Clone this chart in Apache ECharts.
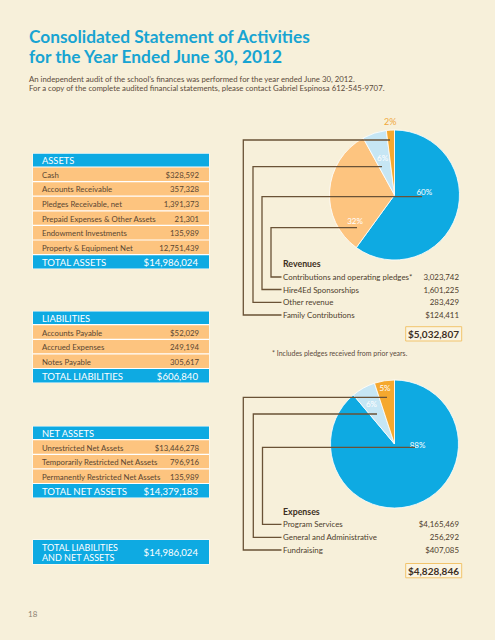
<!DOCTYPE html>
<html><head><meta charset="utf-8">
<script src="https://cdn.jsdelivr.net/npm/echarts@6/dist/echarts.min.js"></script>
<style>html,body{margin:0;padding:0;background:#f7f0da;}#c{width:495px;height:640px;}</style>
</head><body><div id="c"></div>
<script>
// ---- data ----
const titleLines = ['Consolidated Statement of Activities', 'for the Year Ended June 30, 2012'];
const introLines = ['An independent audit of the school\u2019s finances was performed for the year ended June 30, 2012.',
  'For a copy of the complete audited financial statements, please contact Gabriel Espinosa 612-545-9707.'];
const assetItems = ['Cash', 'Accounts Receivable', 'Pledges Receivable, net', 'Prepaid Expenses & Other Assets', 'Endowment Investments', 'Property & Equipment Net'];
const assetValues = ['$328,592', '357,328', '1,391,373', '21,301', '135,989', '12,751,439'];
const assetTotal = '$14,986,024';
const liabilityItems = ['Accounts Payable', 'Accrued Expenses', 'Notes Payable'];
const liabilityValues = ['$52,029', '249,194', '305,617'];
const liabilityTotal = '$606,840';
const netAssetItems = ['Unrestricted Net Assets', 'Temporarily Restricted Net Assets', 'Permanently Restricted Net Assets'];
const netAssetValues = ['$13,446,278', '796,916', '135,989'];
const netAssetTotal = '$14,379,183';
const grandTotalLabel = ['TOTAL LIABILITIES', 'AND NET ASSETS'];
const grandTotal = '$14,986,024';
const revenueCategories = ['Contributions and operating pledges*', 'Hire4Ed Sponsorships', 'Other revenue', 'Family Contributions'];
const revenueAmounts = ['3,023,742', '1,601,225', '283,429', '$124,411'];
const revenuePct = [60, 32, 6, 2];
const revenueTotal = '$5,032,807';
const revenueNote = '* Includes pledges received from prior years.';
const expenseCategories = ['Program Services', 'General and Administrative', 'Fundraising'];
const expenseAmounts = ['$4,165,469', '256,292', '$407,085'];
const expensePct = [88, 6, 5];
const expenseTotal = '$4,828,846';
const pageNumber = '18';

// ---- styles ----
const FONT = 'Lato, "Open Sans", sans-serif';
const BLUE = '#0eaae2', PEACH = '#fdc47f', LIGHT = '#c6e6f4', ORANGE = '#f5a82e';
const BROWN = '#4e3d2c', LINE = '#6a5236';
const revColors = [BLUE, PEACH, LIGHT, ORANGE];
const revLabelColors = ['#ffffff', '#ffffff', '#ffffff', '#f0a83a'];
const revOffsets = [[-4, -14], [-4, 28], [-1, -3], [-2, -38]];
const expColors = [BLUE, LIGHT, ORANGE];
const expOffsets = [[11, -32], [-6, -9], [-4, -21]];

const els = [];
function txt(x, y, s, size, color, weight, align) {
  els.push({type: 'text', x: x, y: y, z: 20, silent: true,
    style: {text: s, fill: color, font: (weight || 'normal') + ' ' + size + 'px ' + FONT,
      align: align || 'left', textAlign: align || 'left', verticalAlign: 'middle', textVerticalAlign: 'middle'}});
}
function rect(x, y, w, h, fill, stroke, z) {
  els.push({type: 'rect', z: z || 1, silent: true, shape: {x: x, y: y, width: w, height: h},
    style: {fill: fill, stroke: stroke || null, lineWidth: stroke ? 1 : 0}});
}
function line(pts) {
  els.push({type: 'polyline', z: 30, silent: true, shape: {points: pts}, style: {stroke: LINE, lineWidth: 1.3, fill: null}});
}
const TX = 33, TW = 176, HH = 12.6, GAP = 1.2, RH = 13.4;
function table(top, header, items, values, totalLabel, totalValue) {
  const n = items.length;
  const totalTop = top + HH + GAP + n * (RH + GAP);
  rect(TX - 0.5, top - 0.5, TW + 1, totalTop + RH - top + 1, '#ffffff');
  rect(TX, top, TW, HH, BLUE);
  txt(42, top + HH / 2 + 0.5, header, 9.3, '#ffffff', 'normal');
  items.forEach((it, i) => {
    const y = top + HH + GAP + i * (RH + GAP);
    rect(TX, y, TW, RH, PEACH);
    txt(42, y + RH / 2 + 0.5, it, 7.8, '#5a4632');
    txt(199, y + RH / 2 + 0.5, values[i], 7.8, '#5a4632', 'normal', 'right');
  });
  rect(TX, totalTop, TW, RH, BLUE);
  txt(42, totalTop + RH / 2 + 0.5, totalLabel, 9.6, '#ffffff');
  txt(198, totalTop + RH / 2 + 0.5, totalValue, 9.6, '#ffffff', 'normal', 'right');
}

// title
txt(29, 36.5, titleLines[0], 17.3, '#18a4d2', 'bold');
txt(29, 56.5, titleLines[1], 17.3, '#18a4d2', 'bold');
txt(29, 79, introLines[0], 7.8, '#5b4a3a');
txt(29, 88.3, introLines[1], 7.8, '#5b4a3a');

// tables
table(153.8, 'ASSETS', assetItems, assetValues, 'TOTAL ASSETS', assetTotal);
table(311.5, 'LIABILITIES', liabilityItems, liabilityValues, 'TOTAL LIABILITIES', liabilityTotal);
table(426.5, 'NET ASSETS', netAssetItems, netAssetValues, 'TOTAL NET ASSETS', netAssetTotal);
rect(TX - 0.5, 539.5, TW + 1, 25, '#ffffff');
rect(TX, 540, TW, 24, BLUE);
txt(42, 547.2, grandTotalLabel[0], 9, '#ffffff');
txt(42, 557.6, grandTotalLabel[1], 9, '#ffffff');
txt(198, 552.5, grandTotal, 9.6, '#ffffff', 'normal', 'right');

// revenue legend
txt(283, 263.5, 'Revenues', 8.8, '#3d2f22', 'bold');
const revRowY = [277, 289.5, 302.3, 315];
revenueCategories.forEach((c, i) => {
  txt(283, revRowY[i], c, 7.9, BROWN);
  txt(459, revRowY[i], revenueAmounts[i], 7.9, BROWN, 'normal', 'right');
});
rect(405.7, 326.7, 56, 14.3, '#faf4e2', '#f2c46c', 2);
txt(459, 334, revenueTotal, 10, '#3d2f22', 'bold', 'right');
txt(272, 352.7, revenueNote, 7, '#5b4a3a');
// revenue leader lines (from slice to legend row)
const revLineY = [227.7, 196.7, 166.7, 140];
const revLineX = [271, 262, 253, 243.3];
const revLineEnd = [357, 422, 382, 390];
[0, 1, 2, 3].forEach(i => {
  line([[revLineEnd[i], revLineY[i]], [revLineX[i], revLineY[i]], [revLineX[i], revRowY[i]], [281.5, revRowY[i]]]);
});

// expense legend
txt(283, 511.7, 'Expenses', 8.8, '#3d2f22', 'bold');
const expRowY = [524.3, 537.3, 550];
expenseCategories.forEach((c, i) => {
  txt(283, expRowY[i], c, 7.9, BROWN);
  txt(459, expRowY[i], expenseAmounts[i], 7.9, BROWN, 'normal', 'right');
});
rect(405.7, 563.5, 56, 14.3, '#faf4e2', '#f2c46c', 2);
txt(459, 570.8, expenseTotal, 10, '#3d2f22', 'bold', 'right');
const expLineY = [447.3, 414, 397.3];
const expLineX = [262.5, 253.3, 243.3];
const expLineEnd = [415, 377, 387];
[0, 1, 2].forEach(i => {
  line([[expLineEnd[i], expLineY[i]], [expLineX[i], expLineY[i]], [expLineX[i], expRowY[i]], [281.5, expRowY[i]]]);
});

txt(28, 614, pageNumber, 8, '#8d8372');

function pieData(cats, pct, colors, offsets, labelColors) {
  return pct.map((v, i) => ({
    name: cats[i], value: v,
    itemStyle: {color: colors[i]},
    label: {offset: offsets[i], color: labelColors ? labelColors[i] : '#ffffff', fontSize: i === 3 ? 9 : 8}
  }));
}

const chart = echarts.init(document.getElementById('c'), null, {renderer: 'svg'});
chart.setOption({
  backgroundColor: '#f7f0da',
  animation: false,
  graphic: {elements: els},
  series: [
    {type: 'pie', center: [394.5, 195], radius: 65, startAngle: 90, clockwise: true, z: 5,
      avoidLabelOverlap: false, silent: true,
      itemStyle: {borderColor: '#ffffff', borderWidth: 0.8},
      label: {show: true, position: 'inside', formatter: '{c}%', fontFamily: FONT, fontSize: 8, color: '#fff'},
      labelLine: {show: false},
      data: pieData(revenueCategories, revenuePct, revColors, revOffsets, revLabelColors)},
    {type: 'pie', center: [394.5, 444], radius: 64, startAngle: 90, clockwise: true, z: 5,
      avoidLabelOverlap: false, silent: true,
      itemStyle: {borderColor: '#ffffff', borderWidth: 0.8},
      label: {show: true, position: 'inside', formatter: '{c}%', fontFamily: FONT, fontSize: 8, color: '#fff'},
      labelLine: {show: false},
      data: pieData(expenseCategories, expensePct, expColors, expOffsets)}
  ]
});
</script></body></html>
